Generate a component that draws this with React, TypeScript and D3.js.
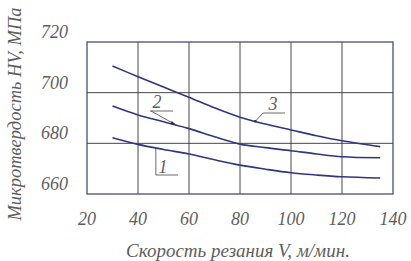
import * as d3 from "d3";

const speeds = [30, 40, 50, 60, 70, 80, 90, 100, 110, 120, 135];
const curve1 = [682.2, 679.6, 677.6, 675.8, 673.5, 671.4, 669.8, 668.4, 667.5, 666.8, 666.3];
const curve2 = [694.7, 691.2, 688.5, 685.8, 682.6, 679.7, 678.3, 677.1, 675.8, 674.7, 674.3];
const curve3 = [710.5, 706.3, 702.2, 698.2, 694.0, 690.3, 687.6, 685.3, 683.0, 681.0, 678.7];
const series = [curve1, curve2, curve3];

const xTicks = [20, 40, 60, 80, 100, 120, 140];
const yTicks = [660, 680, 700, 720];

const W = 411;
const H = 261;
const textColor = "#5e5e5e";
const lineColor = "#2f3680";
const txt = { fontFamily: "'Liberation Serif', 'Times New Roman', serif", fontStyle: "italic" };

export default function App() {
  const x = d3.scaleLinear().domain([20, 140]).range([87, 393]);
  const y = d3.scaleLinear().domain([660, 720]).range([194, 42]);

  const line = d3
    .line<number>()
    .x((_, i) => x(speeds[i]))
    .y((d) => y(d))
    .curve(d3.curveCatmullRom.alpha(0.5));

  // leader line anchor points on the curves
  const p2 = [x(55), y(687.2)];
  const p1 = [x(47), y(678.2)];
  const p3 = [x(86), y(688.7)];

  return (
    <svg
      width={W}
      height={H}
      style={{ position: "absolute", left: 0, top: 0, background: "#fff" }}
    >
      {/* grid */}
      {xTicks.slice(1, -1).map((t) => (
        <line key={"gx" + t} x1={x(t)} x2={x(t)} y1={y(720)} y2={y(660)} stroke="#333" strokeWidth={0.9} />
      ))}
      {yTicks.slice(1, -1).map((t) => (
        <line key={"gy" + t} x1={x(20)} x2={x(140)} y1={y(t)} y2={y(t)} stroke="#333" strokeWidth={0.9} />
      ))}
      <rect
        x={x(20)}
        y={y(720)}
        width={x(140) - x(20)}
        height={y(660) - y(720)}
        fill="none"
        stroke="#4a4f78"
        strokeWidth={1.3}
      />

      {series.map((s, i) => (
        <path key={i} d={line(s) ?? ""} fill="none" stroke={lineColor} strokeWidth={1.6} />
      ))}

      {/* y tick labels */}
      {yTicks.map((t) => (
        <text key={"ty" + t} x={68} y={y(t) - 4} textAnchor="end" fontSize={18} fill={textColor} style={txt}>
          {t}
        </text>
      ))}
      {/* x tick labels */}
      {xTicks.map((t) => (
        <text key={"tx" + t} x={x(t)} y={225} textAnchor="middle" fontSize={18} fill={textColor} style={txt}>
          {t}
        </text>
      ))}

      <text x={238} y={257} textAnchor="middle" fontSize={19} fill={textColor} style={txt}>
        Скорость резания V, м/мин.
      </text>
      <text
        transform={`translate(21, ${114}) rotate(-90)`}
        textAnchor="middle"
        fontSize={18.5}
        fill={textColor}
        style={txt}
      >
        Микротвердость HV, МПа
      </text>

      {/* curve labels */}
      <g stroke="#444" strokeWidth={0.8} fill="none">
        <line x1={150} y1={111} x2={173} y2={111} />
        <line x1={151} y1={111} x2={p2[0]} y2={p2[1]} />
        <line x1={p1[0]} y1={p1[1]} x2={p1[0]} y2={175} />
        <line x1={p1[0]} y1={175} x2={178} y2={175} />
        <line x1={p3[0]} y1={p3[1]} x2={263} y2={113} />
        <line x1={263} y1={113} x2={285} y2={113} />
      </g>
      <path d={`M${p2[0]},${p2[1]} l-6,-1 l1.5,-3 z`} fill="#333" />
      <circle cx={p3[0]} cy={p3[1]} r={1.3} fill="#333" />
      <text x={157} y={108} textAnchor="middle" fontSize={18} fill={textColor} style={txt}>2</text>
      <text x={163} y={173} textAnchor="middle" fontSize={18} fill={textColor} style={txt}>1</text>
      <text x={273} y={110} textAnchor="middle" fontSize={18} fill={textColor} style={txt}>3</text>
    </svg>
  );
}
